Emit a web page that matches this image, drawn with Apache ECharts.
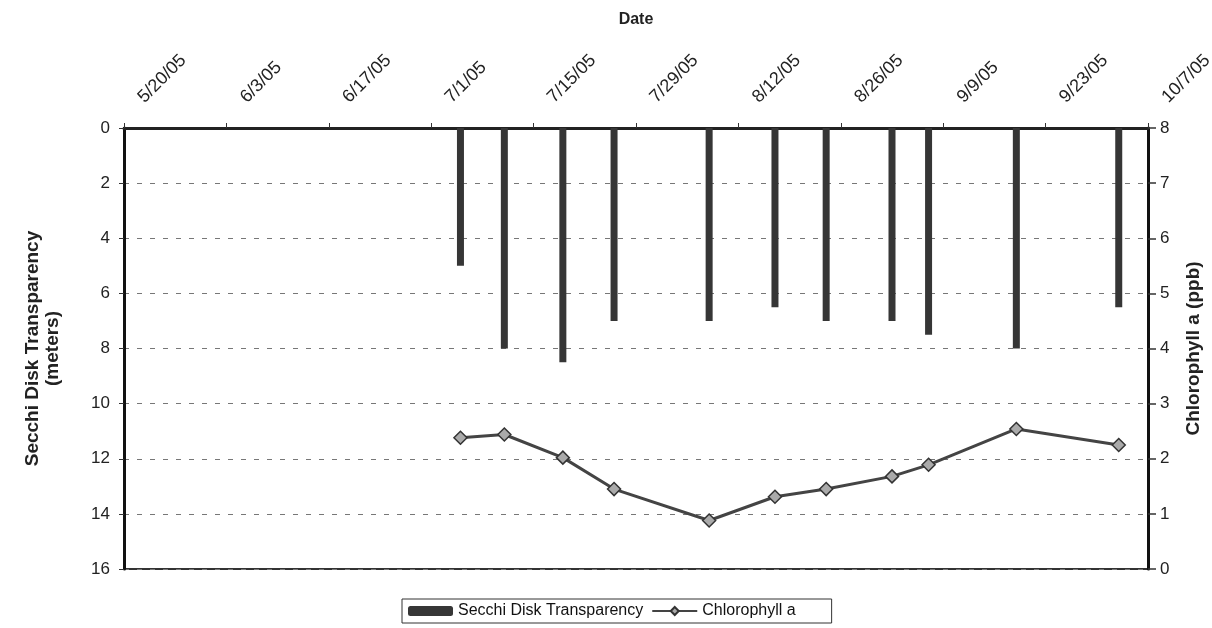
<!DOCTYPE html>
<html>
<head>
<meta charset="utf-8">
<script src="https://cdn.jsdelivr.net/npm/echarts@6/dist/echarts.min.js"></script>
<style>
html,body{margin:0;padding:0;background:#fff;}
#chart{width:1212px;height:628px;}
</style>
</head>
<body>
<div id="chart"></div>
<script>
// Data
const sampleDates = ['2005-07-05','2005-07-11','2005-07-19','2005-07-26','2005-08-08','2005-08-17','2005-08-24','2005-09-02','2005-09-07','2005-09-19','2005-10-03'];
const secchiDepth = [5, 8, 8.5, 7, 7, 6.5, 7, 7, 7.5, 8, 6.5];
const chlorophyll = [2.38, 2.44, 2.02, 1.45, 0.88, 1.31, 1.45, 1.68, 1.89, 2.54, 2.25];
const axisStartDate = '2005-05-20';
const axisEndDate = '2005-10-07';
const tickStepDays = 14;

const DAY = 86400000;
const t0 = Date.parse(axisStartDate + 'T00:00:00Z');
function dayOffset(s){ return Math.round((Date.parse(s + 'T00:00:00Z') - t0) / DAY); }
function fmtDate(d){
  const dt = new Date(t0 + d * DAY);
  return (dt.getUTCMonth()+1) + '/' + dt.getUTCDate() + '/' + String(dt.getUTCFullYear()).slice(2);
}
const xs = sampleDates.map(dayOffset);
const barData = xs.map((x,i)=>[x, secchiDepth[i]]);
const lineData = xs.map((x,i)=>[x, chlorophyll[i]]);

const FONT = 'Arial, "Liberation Sans", sans-serif';
const chart = echarts.init(document.getElementById('chart'), null, {renderer:'canvas'});
chart.setOption({
  backgroundColor:'#fff',
  animation:false,
  textStyle:{fontFamily:FONT},
  grid:{left:124, right:64, top:128, bottom:59, outerBoundsMode:'none', containLabel:false, show:true, borderColor:'#333', borderWidth:2, backgroundColor:'transparent'},
  legend:{
    bottom:5, left:402,
    data:['Secchi Disk Transparency','Chlorophyll a'],
    borderColor:'#333', borderWidth:1, padding:[4,36,4,6], itemGap:8,
    itemWidth:45, itemHeight:10,
    textStyle:{fontFamily:FONT, fontSize:16, color:'#111'}
  },
  xAxis:{
    type:'value', position:'top',
    min:0, max:dayOffset(axisEndDate), interval:tickStepDays,
    name:'Date', nameLocation:'middle', nameGap:100,
    nameTextStyle:{fontFamily:FONT, fontSize:16, fontWeight:'bold', color:'#222'},
    axisLine:{show:true, lineStyle:{color:'#222', width:3}},
    axisTick:{show:true, length:5, lineStyle:{color:'#333'}},
    axisLabel:{rotate:45, margin:11, padding:[0,0,0,24], fontSize:18, color:'#222', fontFamily:FONT, formatter:v=>fmtDate(v)},
    splitLine:{show:false}
  },
  yAxis:[{
    type:'value', inverse:true, min:0, max:16, interval:2, position:'left',
    name:'Secchi Disk Transparency\n(meters)', nameLocation:'middle', nameGap:61, nameRotate:90,
    nameTextStyle:{fontFamily:FONT, fontSize:19, fontWeight:'bold', color:'#222', lineHeight:20},
    axisLine:{show:true, lineStyle:{color:'#111', width:3}},
    axisTick:{show:true, length:5, lineStyle:{color:'#333'}},
    axisLabel:{fontSize:17, color:'#222', margin:14, fontFamily:FONT},
    splitLine:{show:true, lineStyle:{color:'#777', type:[5,8], width:1}}
  },{
    type:'value', min:0, max:8, interval:1, position:'right',
    name:'Chlorophyll a (ppb)', nameLocation:'middle', nameGap:36, nameRotate:90,
    nameTextStyle:{fontFamily:FONT, fontSize:19, fontWeight:'bold', color:'#222'},
    axisLine:{show:true, lineStyle:{color:'#111', width:3}},
    axisTick:{show:true, length:8, lineStyle:{color:'#333', width:1.5}},
    axisLabel:{fontSize:17, color:'#222', margin:12, fontFamily:FONT},
    splitLine:{show:false}
  }],
  series:[{
    name:'Secchi Disk Transparency', type:'bar', xAxisIndex:0, yAxisIndex:0,
    data:barData, barWidth:7,
    itemStyle:{color:'#363636'}
  },{
    name:'Chlorophyll a', type:'line', xAxisIndex:0, yAxisIndex:1,
    data:lineData, symbol:'diamond', symbolSize:13,
    lineStyle:{color:'#444', width:3},
    itemStyle:{color:'#aaa', borderColor:'#333', borderWidth:1.5}
  }]
});
</script>
</body>
</html>
